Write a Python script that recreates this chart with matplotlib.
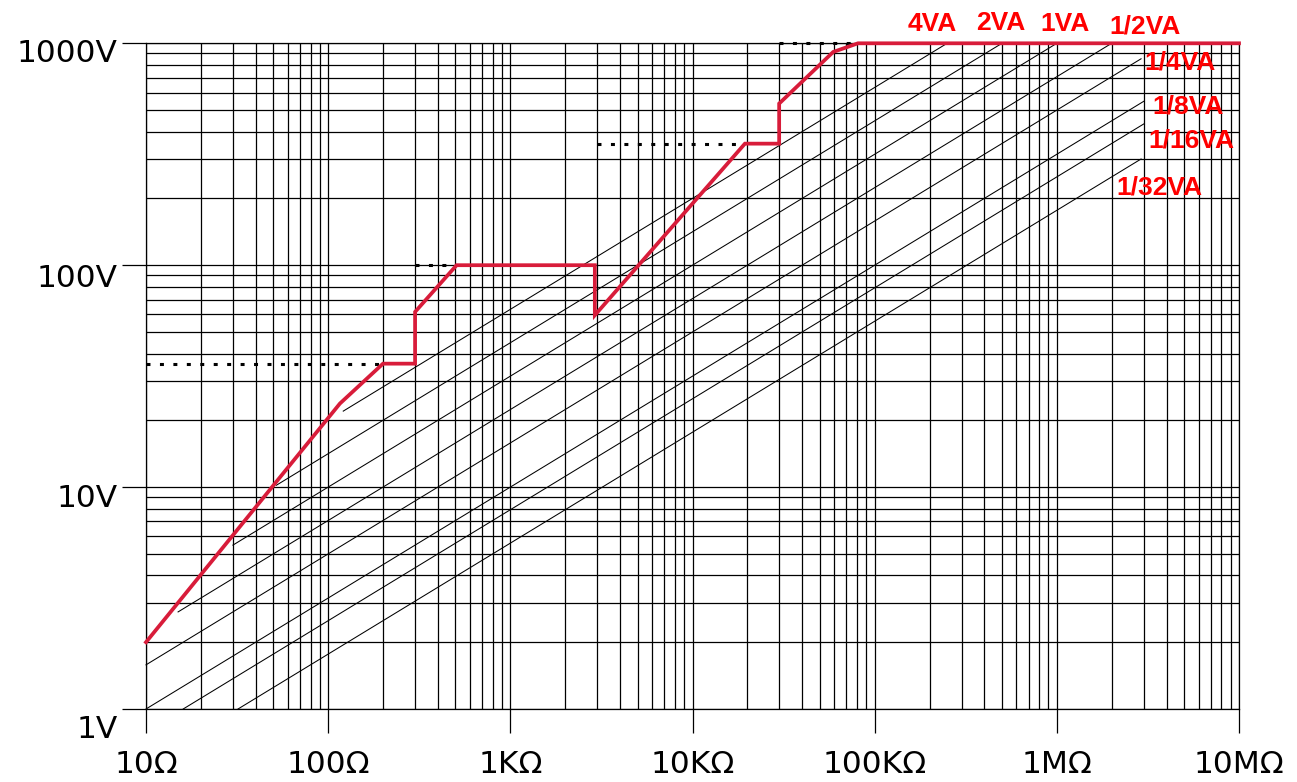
"""Rated power / max working voltage chart (log-log)"""

import matplotlib
matplotlib.use("Agg")
import matplotlib.pyplot as plt
import matplotlib.transforms as mtrans
from matplotlib.ticker import FixedLocator, LogLocator, NullFormatter

### DATA ####
# power lines: V = sqrt(P * R), each drawn from r_start to r_end
power_labels = ["4VA", "2VA", "1VA", "1/2VA", "1/4VA", "1/8VA", "1/16VA", "1/32VA"]
power_values = [4, 2, 1, 0.5, 0.25, 0.1, 0.0625, 0.03125]
power_r_start = [121, 52, 30, 15, 10, 10, 16, 32]
power_r_end = [2.5e5, 5e5, 1e6, 2e6, 2.9e6, 3e6, 3e6, 2.9e6]

# max voltage envelope (red)
limit_r = [10, 116, 200, 300, 300, 507, 2910, 2910, 19400, 29900, 29900, 59200, 81000, 1e7]
limit_v = [2.0, 23.8, 36.0, 36.0, 61.6, 100, 100, 59.5, 353, 353, 535, 914, 1000, 1000]

# dotted reference levels
dot_v = [36.0, 100, 353, 1000]
dot_r_start = [10, 300, 3000, 30000]
dot_r_end = [200, 507, 19400, 81000]

x_ticks = [10, 100, 1e3, 1e4, 1e5, 1e6, 1e7]
x_ticklabels = ["10Ω", "100Ω", "1KΩ", "10KΩ", "100KΩ", "1MΩ", "10MΩ"]
y_ticks = [1, 10, 100, 1000]
y_ticklabels = ["1V", "10V", "100V", "1000V"]
##############

# label anchor positions (data coords) and y-label drops in px
label_pos = [(2.06e5, 1218), (4.93e5, 1231), (1.107e6, 1218), (3.04e6, 1193),
             (4.73e6, 821), (5.24e6, 520), (5.51e6, 366), (3.67e6, 224)]
ylabel_drop = [18, 8, 10, 7]

W, H = 1297, 782
fig = plt.figure(figsize=(W / 100, H / 100), dpi=100)
ax = fig.add_axes([146 / W, 73 / H, (1239 - 146) / W, (709 - 43.3) / H])

ax.set_xscale("log")
ax.set_yscale("log")
ax.set_xlim(10, 1e7)
ax.set_ylim(1, 1000)

# grid
ax.xaxis.set_minor_locator(LogLocator(base=10, subs=range(2, 10), numticks=20))
ax.yaxis.set_minor_locator(LogLocator(base=10, subs=range(2, 10), numticks=20))
ax.xaxis.set_minor_formatter(NullFormatter())
ax.yaxis.set_minor_formatter(NullFormatter())
ax.grid(which="both", color="black", linewidth=0.9)
ax.set_axisbelow(True)
for sp in ax.spines.values():
    sp.set_color("black")
    sp.set_linewidth(0.9)

ax.xaxis.set_major_locator(FixedLocator(x_ticks))
ax.yaxis.set_major_locator(FixedLocator(y_ticks))
ax.set_xticklabels(x_ticklabels)
ax.set_yticklabels(y_ticklabels)
ax.tick_params(which="major", length=17.3, width=0.9, color="black", direction="out")
ax.tick_params(which="minor", length=0)
ax.tick_params(axis="x", pad=29)
ax.tick_params(axis="y", pad=3)
for lab in ax.get_xticklabels() + ax.get_yticklabels():
    lab.set_fontfamily(["DejaVu Sans"])
    lab.set_fontsize(22.5)
for lab in ax.get_xticklabels():
    lab.set_va("baseline")
for lab, d in zip(ax.get_yticklabels(), ylabel_drop):
    lab.set_transform(lab.get_transform() + mtrans.ScaledTranslation(0, -d / 100, fig.dpi_scale_trans))

# power lines
for p, r0, r1 in zip(power_values, power_r_start, power_r_end):
    ax.plot([r0, r1], [(p * r0) ** 0.5, (p * r1) ** 0.5], color="black", lw=0.75, clip_on=False, zorder=3)

# dotted levels
for v, r0, r1 in zip(dot_v, dot_r_start, dot_r_end):
    ax.plot([r0, r1], [v, v], color="black", lw=2.2, linestyle=(0, (1.3, 3.1)), clip_on=False, zorder=4)

# max voltage envelope
ax.plot(limit_r, limit_v, color="#d81c3a", lw=2.7, solid_joinstyle="miter", clip_on=False, zorder=5)

for txt, (lx, ly) in zip(power_labels, label_pos):
    ax.text(lx, ly, txt, color="#ff0000", fontsize=19, fontweight="bold",
            family="Liberation Sans", ha="center", va="center", clip_on=False)

fig.savefig("out.png", dpi=100)
